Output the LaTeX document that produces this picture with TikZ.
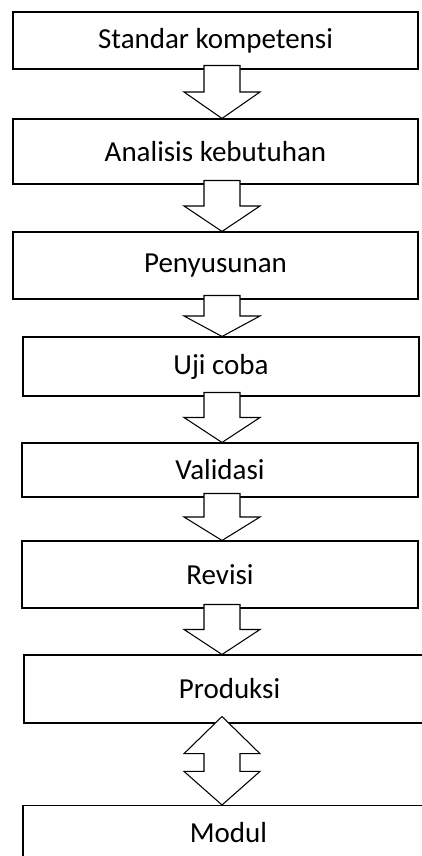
\documentclass[tikz,border=0pt]{standalone}
\usepackage{fontspec}
\setmainfont{Carlito}
\usetikzlibrary{calc}

\begin{document}
\begin{tikzpicture}[
    box/.style={draw, line width=0.6pt, inner sep=0pt, font=\fontsize{16.5}{20}\selectfont},
    blockarrow/.style={draw, fill=white, line width=0.6pt, line join=miter}]
    \useasboundingbox (0,0) rectangle (8.44,17.12);
    \clip (0,0) rectangle (8.44,17.12);
    \coordinate (col) at (4.44,0);

    \node[box, minimum width=8.10cm, minimum height=1.14cm] (std) at (4.31,16.31) {Standar kompetensi};
    \node[box, minimum width=8.10cm, minimum height=1.30cm] (ana) at (4.31,14.09) {Analisis kebutuhan};
    \node[box, minimum width=8.10cm, minimum height=1.34cm] (pen) at (4.31,11.81) {Penyusunan};
    \node[box, minimum width=7.92cm, minimum height=1.18cm] (uji) at (4.42,9.79) {Uji coba};
    \node[box, minimum width=7.92cm, minimum height=1.08cm] (val) at (4.40,7.72) {Validasi};
    \node[box, minimum width=7.92cm, minimum height=1.34cm] (rev) at (4.40,5.63) {Revisi};
    \node[box, minimum width=8.22cm, minimum height=1.36cm] (prod) at (4.59,3.34) {Produksi};
    % runs off the bottom of the page
    \node[box, minimum width=8.22cm, anchor=north, inner ysep=0.3cm, text height=0.44cm, text depth=1cm] (mod) at (4.57,1.02) {Modul};

    % block arrows between the steps
    \foreach \a/\b in {std/ana, ana/pen, pen/uji, uji/val, val/rev, rev/prod} {
        \path ($(\a.south -| col)+(0,0.08)$) coordinate (t)
              (\b.north -| col) coordinate (e)
              ($(t)!0.5!(e)$) coordinate (m);
        \draw[blockarrow] ($(t)+(-0.36,0)$) -- ($(t)+(0.36,0)$) -- ($(m)+(0.36,0)$)
            -- ($(m)+(0.76,0)$) -- (e) -- ($(m)+(-0.76,0)$) -- ($(m)+(-0.36,0)$) -- cycle;
    }

    % two-way arrow Produksi - Modul
    \path ($(prod.south -| col)+(0,0.14)$) coordinate (t)
          (mod.north -| col) coordinate (e)
          ($(t)!0.42!(e)$) coordinate (m1)
          ($(t)!0.62!(e)$) coordinate (m2);
    \draw[blockarrow] (t) -- ($(m1)+(0.76,0)$) -- ($(m1)+(0.36,0)$) -- ($(m2)+(0.36,0)$)
        -- ($(m2)+(0.76,0)$) -- (e) -- ($(m2)+(-0.76,0)$) -- ($(m2)+(-0.36,0)$)
        -- ($(m1)+(-0.36,0)$) -- ($(m1)+(-0.76,0)$) -- cycle;
\end{tikzpicture}
\end{document}
